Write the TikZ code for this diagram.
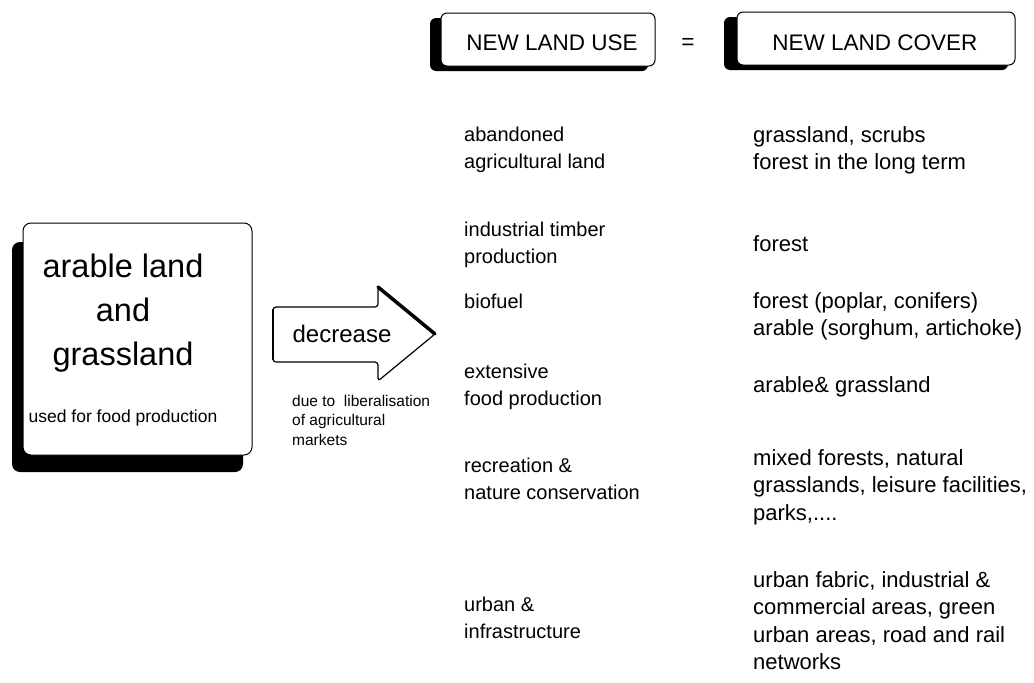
\documentclass[tikz,border=0pt]{standalone}
\usepackage{fontspec}
\setmainfont{Liberation Sans}

\tikzset{
	shadowbox/.style={fill=black, rounded corners=6pt},
	whitebox/.style={draw=black, line width=1pt, fill=white, rounded corners=6pt},
	headtext/.style={anchor=base, inner sep=0pt, font=\fontsize{22.5}{27}\selectfont},
	usecol/.style={anchor=north west, inner sep=0pt, align=left, font=\fontsize{20}{26.5}\selectfont},
	covercol/.style={anchor=north west, inner sep=0pt, align=left, font=\fontsize{22}{27.5}\selectfont},
}

\begin{document}
\begin{tikzpicture}[x=1pt, y=-1pt]
	\useasboundingbox (0,0) rectangle (1034,683);
	% header boxes
	\fill[shadowbox] (430,18) rectangle (648,71);
	\draw[whitebox] (441,13) rectangle (655,66);
	\fill[shadowbox] (724,17) rectangle (1008,70);
	\draw[whitebox] (737,12) rectangle (1015,65);
	\node[headtext] (use) at (552,50) {NEW LAND USE};
	\node[headtext, anchor=center] (eq) at (688,44) {=};
	\node[headtext] (cover) at (875,50) {NEW LAND COVER};

	% land box
	\fill[shadowbox, rounded corners=8pt] (12,242) rectangle (243,472);
	\draw[whitebox, rounded corners=8pt] (23,223) rectangle (252,455);
	\node[anchor=north, inner sep=0pt, align=center, font=\fontsize{32.5}{44}\selectfont] 
		(land) at (123,254) {arable land\\and\\grassland};
	\node[anchor=base, inner sep=0pt, font=\fontsize{17.5}{21}\selectfont] 
		(food) at (123,422) {used for food production};

	% arrow
	\draw[line width=1.2pt, fill=white, rounded corners=3pt] 
		(273,307) -- (378,307) -- (378,287) -- (435,334) -- (378,381) 
		-- (378,362) -- (273,362) -- cycle;
	\draw[line width=3.5pt, line cap=round] (378,287) -- (435,334);
	\draw[line width=2.5pt, line cap=round] (273,310) -- (273,359);
	\node[inner sep=0pt, font=\fontsize{24}{28}\selectfont] (decr) at (342,334) {decrease};
	\node[anchor=north west, inner sep=0pt, align=left, font=\fontsize{15.5}{19.5}\selectfont] 
		(due) at (292,395) {due to~ liberalisation\\of agricultural\\markets};

	% new land use
	\node[usecol] (u1) at (464,127) {abandoned\\agricultural land};
	\node[usecol] (u2) at (464,222) {industrial timber\\production};
	\node[usecol] (u3) at (464,294) {biofuel};
	\node[usecol] (u4) at (464,364) {extensive\\food production};
	\node[usecol] (u5) at (464,458) {recreation \&\\nature conservation};
	\node[usecol] (u6) at (464,597) {urban \&\\infrastructure};

	% new land cover
	\node[covercol] (c1) at (753,126) {grassland, scrubs\\forest in the long term};
	\node[covercol] (c2) at (753,235) {forest};
	\node[covercol] (c3) at (753,292) {forest (poplar, conifers)\\arable (sorghum, artichoke)};
	\node[covercol] (c4) at (753,376) {arable\& grassland};
	\node[covercol] (c5) at (753,449) {mixed forests, natural\\grasslands, leisure facilities,\\parks,....};
	\node[covercol] (c6) at (753,571) {urban fabric, industrial \&\\commercial areas, green\\urban areas, road and rail\\networks};
\end{tikzpicture}
\end{document}
